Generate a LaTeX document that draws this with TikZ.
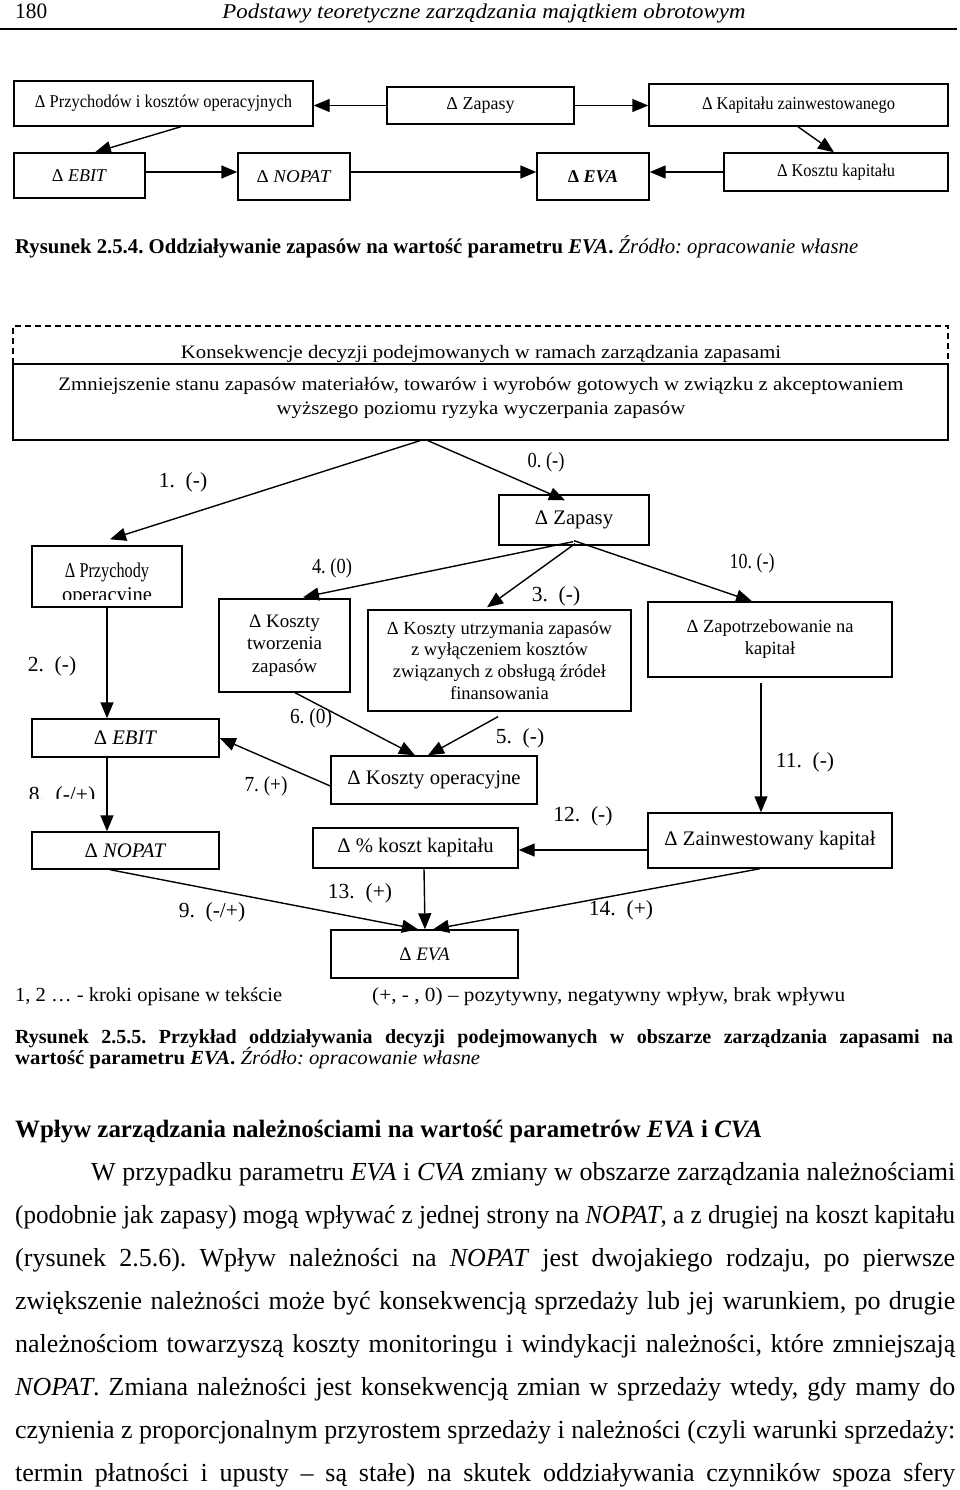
\documentclass[tikz,border=0pt]{standalone}
\usepackage{fontspec}
\setmainfont{Liberation Serif}
\usepackage{graphicx}
\usetikzlibrary{arrows.meta,calc}
\frenchspacing
\newsavebox\jbox
\newcommand\fitw[2]{\resizebox{#1}{\height}{#2}}
\newcommand\jline[2]{\sbox\jbox{#2}\ifdim\wd\jbox>#1\relax\resizebox{#1}{\height}{\usebox\jbox}\else\makebox[#1][s]{#2}\fi}
\tikzset{
  box/.style={draw, line width=1.4pt, inner sep=0pt, align=center},
  arr/.style={line width=1.4pt, -{Triangle[length=16pt,width=13pt]}},
  fa/.style={font=\fontsize{18}{21}\selectfont},
  fb/.style={font=\fontsize{19}{22.5}\selectfont},
  fc/.style={font=\fontsize{20.7}{23}\selectfont},
  lbl/.style={font=\fontsize{21.5}{24}\selectfont, inner sep=0pt},
  txt/.style={inner sep=0pt, anchor=base west},
}
\begin{document}
\begin{tikzpicture}[x=1pt,y=-1pt]
\useasboundingbox[fill=white] (0,0) rectangle (960,1490);

% header
\node[txt, font=\fontsize{22}{24}\selectfont] (pg) at (15,19) {\fitw{32pt}{180}};
\node[inner sep=0pt, anchor=base, font=\fontsize{21}{24}\selectfont\itshape] (ttl) at (484,19) {\fitw{523pt}{Podstawy teoretyczne zarządzania majątkiem obrotowym}};
\draw[line width=2pt] (0,29) -- (957,29);

% figure 2.5.4
\node[box, fa, minimum width=299pt, minimum height=45pt] (A) at (163.5,103.5) {\fitw{257pt}{Δ Przychodów i kosztów operacyjnych}};
\node[box, fa, minimum width=187pt, minimum height=37pt] (B) at (480.5,105.5) {Δ Zapasy};
\node[box, fa, minimum width=299pt, minimum height=42pt] (C) at (798.5,105) {\fitw{193pt}{Δ Kapitału zainwestowanego}};
\node[box, fa, minimum width=131pt, minimum height=45pt] (D) at (79.5,175.5) {Δ \textit{EBIT}};
\node[box, fa, minimum width=112pt, minimum height=47pt] (E) at (294,176.5) {\fitw{75pt}{Δ \textit{NOPAT}}};
\node[box, fa, minimum width=112pt, minimum height=47pt] (F) at (593,176.5) {\textbf{Δ \textit{EVA}}};
\node[box, fa, minimum width=224pt, minimum height=38pt] (G) at (836,172) {\fitw{118pt}{Δ Kosztu kapitału}};

\draw[arr] (B.west) -- (B.west -| A.east);
\draw[arr] (B.east) -- (B.east -| C.west);
\draw[arr] ($(A.south)+(17.5,0)$) -- ($(D.north)+(15.5,0)$);
\draw[arr] ($(C.south)+(-0.5,0)$) -- ($(G.north)+(-2,0)$);
\draw[arr] ($(D.east)+(0,-3.5)$) -- ($(E.west)+(0,-4.5)$);
\draw[arr] ($(E.east)+(0,-4.5)$) -- ($(F.west)+(0,-4.5)$);
\draw[arr] (G.west) -- (G.west -| F.east);

\node[txt, font=\fontsize{21}{24}\selectfont] (cap1) at (15,253) {\fitw{843pt}{\textbf{Rysunek 2.5.4. Oddziaływanie zapasów na wartość parametru \textit{EVA}.} \textit{Źródło: opracowanie własne}}};

% figure 2.5.5
\node[draw, line width=1.4pt, dash pattern=on 6pt off 4pt, minimum width=935pt, minimum height=38pt, inner sep=0pt] (K) at (480.5,345) {};
\begin{scope}
\clip (13,326) rectangle (948,362.5);
\node[inner sep=0pt, anchor=base, fb] (Kt) at (481,358) {\fitw{600pt}{Konsekwencje decyzji podejmowanych w ramach zarządzania zapasami}};
\end{scope}
\node[box, fill=white, minimum width=935pt, minimum height=76pt] (M) at (480.5,402) {};
\node[inner sep=0pt, fb] (Mt) at (481,398) {\resizebox{845pt}{\height}{\begin{tabular}{@{}c@{}}Zmniejszenie stanu zapasów materiałów, towarów i wyrobów gotowych w związku z akceptowaniem\\[1pt] wyższego poziomu ryzyka wyczerpania zapasów\end{tabular}}};

\node[box, minimum width=150pt, minimum height=61pt] (P) at (107,576.5) {};
\node[inner sep=0pt, anchor=base, font=\fontsize{21}{24}\selectfont] (Pt1) at (107,577) {\fitw{84pt}{Δ Przychody}};
\begin{scope}
\clip (33,546) rectangle (181,599);
\node[inner sep=0pt, anchor=base, font=\fontsize{21}{24}\selectfont] (Pt2) at (107,601) {\fitw{90pt}{operacyjne}};
\end{scope}
\node[box, fc, minimum width=150pt, minimum height=50pt] (Z) at (574,520) {Δ Zapasy};
\node[box, fb, minimum width=131pt, minimum height=93pt] (T) at (284.5,645.5) {Δ Koszty\\tworzenia\\zapasów};
\node[box, minimum width=263pt, minimum height=101pt, font=\fontsize{18.5}{21.7}\selectfont] (U) at (499.5,660.5) {Δ Koszty utrzymania zapasów\\z wyłączeniem kosztów\\związanych z obsługą źródeł\\finansowania};
\node[box, minimum width=244pt, minimum height=75pt, font=\fontsize{18.5}{22}\selectfont] (Zp) at (770,639.5) {Δ Zapotrzebowanie na\\kapitał};
\node[box, fc, minimum width=187pt, minimum height=38pt] (EB) at (125.5,738) {Δ \textit{EBIT}};
\node[box, fc, minimum width=187pt, minimum height=37pt] (NP) at (125.5,850.5) {Δ \textit{NOPAT}};
\node[box, fc, minimum width=206pt, minimum height=48pt] (KO) at (434,780) {Δ Koszty operacyjne};
\node[box, fc, minimum width=205pt, minimum height=40pt] (KK) at (415.5,848) {Δ \% koszt kapitału};
\node[box, fc, minimum width=244pt, minimum height=55pt] (ZK) at (770,840.5) {Δ Zainwestowany kapitał};
\node[box, fb, minimum width=187pt, minimum height=48pt] (EV) at (424.5,954) {Δ \textit{EVA}};

% connectors
\draw[arr] ($(M.south)+(-60.5,0)$) -- ($(P.north)+(3,-6)$);
\draw[arr] ($(M.south)+(-52.5,0)$) -- ($(Z.north)+(-9,6)$);
\draw[arr] ($(Z.south)+(-1,-4)$) -- ($(T.north)+(18.5,-1)$);
\draw[arr] ($(Z.south)+(1,-2)$) -- ($(U.north)+(-12.5,-2)$);
\draw[arr] ($(Z.south)+(0,-5)$) -- ($(Zp.north)+(-18,0)$);
\draw[arr] (P.south) -- (P.south |- EB.north);
\draw[arr] (EB.south -| P.south) -- (NP.north -| P.south);
\draw[arr] ($(T.south)+(10.5,0)$) -- ($(KO.north)+(-19,0)$);
\draw[arr] ($(U.south)+(-1.5,5)$) -- ($(KO.north)+(-6,0)$);
\draw[arr] ($(KO.west)+(0,6)$) -- (EB.east);
\draw[arr] ($(Zp.south)+(-9,5)$) -- ($(ZK.north)+(-9,0)$);
\draw[arr] ($(ZK.west)+(0,9.5)$) -- ($(KK.east)+(0,2)$);
\draw[arr] ($(NP.south)+(-15.5,0)$) -- ($(EV.north)+(-6.5,0)$);
\draw[arr] ($(KK.south)+(8.5,0)$) -- ($(EV.north)+(0.5,0)$);
\draw[arr] ($(ZK.south)+(-10,0)$) -- ($(EV.north)+(8.5,0)$);

% labels
\node[lbl] (l1) at (183,482) {1.~~(-)};
\node[lbl] (l0) at (546,462) {\fitw{37pt}{0. (-)}};
\node[lbl] (l4) at (332,568) {\fitw{40pt}{4. (0)}};
\node[lbl] (l3) at (556,596) {3.~~(-)};
\node[lbl] (l10) at (752,563) {\fitw{45pt}{10. (-)}};
\node[lbl] (l2) at (52,666) {2.~~(-)};
\node[lbl] (l6) at (311,718) {\fitw{42pt}{6. (0)}};
\node[lbl] (l5) at (520,738) {5.~~(-)};
\node[lbl] (l7) at (266,786) {\fitw{43pt}{7. (+)}};
\begin{scope}
\clip (0,770) rectangle (150,798.5);
\node[lbl, anchor=base] (l8) at (62,801) {8.~~(-/+)};
\end{scope}
\node[lbl] (l11) at (805,762) {11.~~(-)};
\node[lbl] (l12) at (583,816) {12.~~(-)};
\node[lbl] (l13) at (360,893) {13.~~(+)};
\node[lbl] (l9) at (212,912) {9.~~(-/+)};
\node[lbl] (l14) at (621,910) {14.~~(+)};

% legend and caption
\node[txt, font=\fontsize{20}{23}\selectfont] (lg1) at (15,1001) {\fitw{267pt}{1, 2 … - kroki opisane w tekście}};
\node[txt, font=\fontsize{20}{23}\selectfont] (lg2) at (372,1001) {\fitw{473pt}{(+, - , 0) – pozytywny, negatywny wpływ, brak wpływu}};
\node[txt, font=\fontsize{20}{23}\selectfont\bfseries] (c2a) at (15,1043) {\jline{938pt}{Rysunek 2.5.5. Przykład oddziaływania decyzji podejmowanych w obszarze zarządzania zapasami na}};
\node[txt, font=\fontsize{20}{23}\selectfont] (c2b) at (15,1064) {\fitw{465pt}{\textbf{wartość parametru \textit{EVA}.} \textit{Źródło: opracowanie własne}}};

% heading and body text
\node[txt, font=\fontsize{25}{29}\selectfont\bfseries] (hd) at (15,1137) {\fitw{747pt}{Wpływ zarządzania należnościami na wartość parametrów \textit{EVA} i \textit{CVA}}};
\begin{scope}[every node/.style={txt, font=\fontsize{26}{30}\selectfont}]
\node (b1) at (91,1180) {\jline{864pt}{W przypadku parametru \textit{EVA} i \textit{CVA} zmiany w obszarze zarządzania należnościami}};
\node (b2) at (15,1223) {\jline{940pt}{(podobnie jak zapasy) mogą wpływać z jednej strony na \textit{NOPAT}, a z drugiej na koszt kapitału}};
\node (b3) at (15,1266) {\jline{940pt}{(rysunek 2.5.6). Wpływ należności na \textit{NOPAT} jest dwojakiego rodzaju, po pierwsze}};
\node (b4) at (15,1309) {\jline{940pt}{zwiększenie należności może być konsekwencją sprzedaży lub jej warunkiem, po drugie}};
\node (b5) at (15,1352) {\jline{940pt}{należnościom towarzyszą koszty monitoringu i windykacji należności, które zmniejszają}};
\node (b6) at (15,1395) {\jline{940pt}{\textit{NOPAT}. Zmiana należności jest konsekwencją zmian w sprzedaży wtedy, gdy mamy do}};
\node (b7) at (15,1438) {\jline{940pt}{czynienia z proporcjonalnym przyrostem sprzedaży i należności (czyli warunki sprzedaży:}};
\node (b8) at (15,1481) {\jline{940pt}{termin płatności i upusty – są stałe) na skutek oddziaływania czynników spoza sfery}};
\end{scope}
\end{tikzpicture}
\end{document}
